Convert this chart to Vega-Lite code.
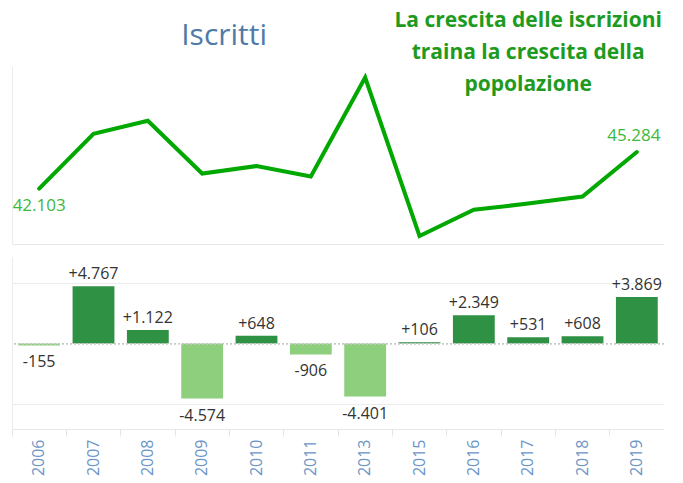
{
  "$schema": "https://vega.github.io/schema/vega-lite/v6.json",
  "padding": {"left": 11, "top": 9, "right": 0, "bottom": 0},
  "background": "white",
  "config": {
    "view": {"stroke": null},
    "font": "Open Sans",
    "locale": {"number": {"decimal": ",", "thousands": ".", "grouping": [3], "currency": ["€", ""], "minus": "-"}}
  },
  "datasets": {
    "iscritti": [
      {"anno": "2006", "iscritti": 42103},
      {"anno": "2007", "iscritti": 46870},
      {"anno": "2008", "iscritti": 47992},
      {"anno": "2009", "iscritti": 43418},
      {"anno": "2010", "iscritti": 44066},
      {"anno": "2011", "iscritti": 43160},
      {"anno": "2013", "iscritti": 51750},
      {"anno": "2015", "iscritti": 38000},
      {"anno": "2016", "iscritti": 40276},
      {"anno": "2017", "iscritti": 40807},
      {"anno": "2018", "iscritti": 41415},
      {"anno": "2019", "iscritti": 45284}
    ],
    "variazioni": [
      {"anno": "2006", "delta": -155},
      {"anno": "2007", "delta": 4767},
      {"anno": "2008", "delta": 1122},
      {"anno": "2009", "delta": -4574},
      {"anno": "2010", "delta": 648},
      {"anno": "2011", "delta": -906},
      {"anno": "2013", "delta": -4401},
      {"anno": "2015", "delta": 106},
      {"anno": "2016", "delta": 2349},
      {"anno": "2017", "delta": 531},
      {"anno": "2018", "delta": 608},
      {"anno": "2019", "delta": 3869}
    ],
    "note": [
      {"anno": "2009", "y": 55354, "testo": "Iscritti", "tipo": "titolo"},
      {"anno": "2017", "y": 56656, "testo": "La crescita delle iscrizioni\ntraina la crescita della\npopolazione", "tipo": "nota"}
    ]
  },
  "spacing": 13,
  "vconcat": [
    {
      "width": 652,
      "height": 178,
      "encoding": {
        "x": {"field": "anno", "type": "nominal", "scale": {"paddingInner": 0, "paddingOuter": 0},
              "axis": {"labels": false, "ticks": false, "title": null, "domainColor": "#e6e6e6", "grid": false}},
        "y": {"field": "iscritti", "type": "quantitative", "scale": {"domain": [37300, 52750], "zero": false, "nice": false},
              "axis": {"labels": false, "ticks": false, "title": null, "grid": false, "domainColor": "#ececec"}}
      },
      "layer": [
        {"data": {"name": "iscritti"}, "mark": {"type": "line", "color": "#00a800", "strokeWidth": 4, "strokeCap": "round"}},
        {"data": {"name": "iscritti"}, "transform": [{"filter": "datum.anno == '2006'"}],
         "mark": {"type": "text", "baseline": "top", "dy": 9, "fontSize": 17, "color": "#3db83d"},
         "encoding": {"text": {"field": "iscritti", "type": "quantitative", "format": ",d"}}},
        {"data": {"name": "iscritti"}, "transform": [{"filter": "datum.anno == '2019'"}],
         "mark": {"type": "text", "baseline": "bottom", "dy": -7, "dx": -3, "fontSize": 17, "color": "#3db83d"},
         "encoding": {"text": {"field": "iscritti", "type": "quantitative", "format": ",d"}}},
        {"data": {"name": "note"}, "transform": [{"filter": "datum.tipo == 'titolo'"}],
         "mark": {"type": "text", "baseline": "middle", "dx": 22, "fontSize": 30, "color": "#4f7aa8"},
         "encoding": {"y": {"field": "y", "type": "quantitative"}, "text": {"field": "testo"}}},
        {"data": {"name": "note"}, "transform": [{"filter": "datum.tipo == 'nota'"}],
         "mark": {"type": "text", "baseline": "middle", "align": "center", "fontSize": 21, "fontWeight": "bold", "lineHeight": 32, "lineBreak": "\n", "color": "#1e9b1e"},
         "encoding": {"y": {"field": "y", "type": "quantitative"}, "text": {"field": "testo"}}}
      ]
    },
    {
      "width": 652,
      "height": 172,
      "data": {"name": "variazioni"},
      "encoding": {
        "x": {"field": "anno", "type": "nominal", "scale": {"paddingInner": 0, "paddingOuter": 0},
              "axis": {"title": null, "labelAngle": -90, "labelAlign": "right", "labelBaseline": "middle", "labelFontSize": 16,
                       "labelColor": "#6b95c6", "labelPadding": 3, "tickSize": 7, "tickColor": "#e6e6e6", "domainColor": "#e6e6e6", "bandPosition": 0}},
        "y": {"field": "delta", "type": "quantitative", "scale": {"domain": [-7100, 7200], "nice": false},
              "axis": {"labels": false, "ticks": false, "title": null, "values": [-5000, 5000], "gridColor": "#ececec", "domainColor": "#ececec"}}
      },
      "layer": [
        {"mark": {"type": "bar", "width": {"band": 0.77}},
         "encoding": {"color": {"condition": {"test": "datum.delta > 0", "value": "#2e9144"}, "value": "#8ecf7e"}}},
        {"mark": {"type": "rule", "strokeDash": [2, 2], "color": "#c8c8c8"}, "encoding": {"y": {"datum": 0}, "x": null}},
        {"transform": [{"filter": "datum.delta > 0"}],
         "mark": {"type": "text", "baseline": "bottom", "dy": -4, "fontSize": 16, "color": "#333333"},
         "encoding": {"text": {"field": "delta", "type": "quantitative", "format": "+,d"}}},
        {"transform": [{"filter": "datum.delta < 0"}],
         "mark": {"type": "text", "baseline": "top", "dy": 9, "fontSize": 16, "color": "#333333"},
         "encoding": {"text": {"field": "delta", "type": "quantitative", "format": "+,d"}}}
      ]
    }
  ]
}
